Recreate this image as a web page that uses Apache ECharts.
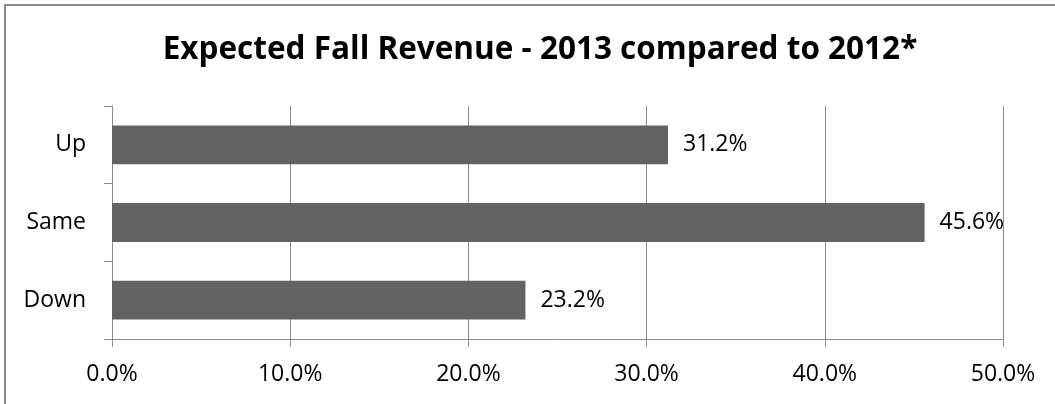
<!DOCTYPE html>
<html>
<head>
<meta charset="utf-8">
<title>Expected Fall Revenue</title>
<script src="https://cdn.jsdelivr.net/npm/echarts@6/dist/echarts.min.js"></script>
<style>
  html, body { margin: 0; padding: 0; background: #fff; }
  #chart { width: 1055px; height: 404px; }
</style>
</head>
<body>
<div id="chart"></div>
<script>
// Survey answers: share of respondents per expected revenue change
const categories = ['Up', 'Same', 'Down'];
const shares = [31.2, 45.6, 23.2];
const xTicks = [0, 10, 20, 30, 40, 50];

const FONT = '"Open Sans", "Noto Sans", sans-serif';
const GRID_GRAY = '#8c8c8c';

const chart = echarts.init(document.getElementById('chart'), null, { renderer: 'canvas' });

chart.setOption({
  animation: false,
  backgroundColor: '#ffffff',
  title: {
    text: 'Expected Fall Revenue - 2013 compared to 2012*',
    left: 535,
    top: 29,
    textAlign: 'center',
    textStyle: {
      fontFamily: FONT,
      fontWeight: 'bold',
      fontSize: 31.5,
      color: '#000'
    }
  },
  graphic: [{
    type: 'rect',
    shape: { x: 5, y: 5, width: 1200, height: 600 },
    style: { fill: 'none', stroke: '#8a8a8a', lineWidth: 2 },
    silent: true
  }],
  grid: { left: 112, right: 52, top: 106, bottom: 65 },
  xAxis: {
    type: 'value',
    min: xTicks[0],
    max: xTicks[xTicks.length - 1],
    interval: xTicks[1] - xTicks[0],
    axisLine: { show: true, lineStyle: { color: GRID_GRAY, width: 1 } },
    axisTick: { show: true, length: 8, lineStyle: { color: GRID_GRAY } },
    splitLine: { show: true, lineStyle: { color: GRID_GRAY, width: 1 } },
    axisLabel: {
      margin: 24,
      fontFamily: FONT,
      fontSize: 23,
      color: '#000',
      formatter: v => v.toFixed(1) + '%'
    }
  },
  yAxis: {
    type: 'category',
    data: categories,
    inverse: true,
    axisLine: { show: true, lineStyle: { color: GRID_GRAY, width: 1 } },
    axisTick: { show: true, length: 8, lineStyle: { color: GRID_GRAY } },
    splitLine: { show: false },
    axisLabel: {
      margin: 26,
      fontFamily: FONT,
      fontSize: 23,
      color: '#000'
    }
  },
  series: [{
    type: 'bar',
    data: shares,
    barCategoryGap: '50%',
    itemStyle: { color: '#636363' },
    label: {
      show: true,
      position: 'right',
      distance: 15,
      fontFamily: FONT,
      fontSize: 23,
      color: '#000',
      formatter: p => p.value.toFixed(1) + '%'
    }
  }]
});
</script>
</body>
</html>
